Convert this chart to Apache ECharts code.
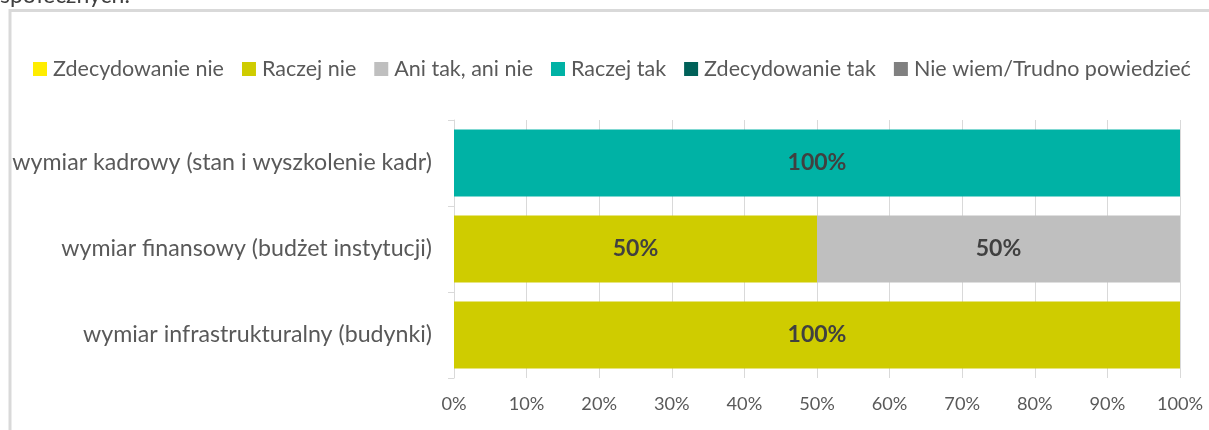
<!DOCTYPE html>
<html>
<head>
<meta charset="utf-8">
<script src="https://cdn.jsdelivr.net/npm/echarts@6/dist/echarts.min.js"></script>
<style>
html,body{margin:0;padding:0;background:#fff;}
#chart{width:1209px;height:430px;}
</style>
</head>
<body>
<div id="chart"></div>
<script>
const categories = ['wymiar infrastrukturalny (budynki)', 'wymiar finansowy (budżet instytucji)', 'wymiar kadrowy (stan i wyszkolenie kadr)'];
const seriesNames = ['Zdecydowanie nie', 'Raczej nie', 'Ani tak, ani nie', 'Raczej tak', 'Zdecydowanie tak', 'Nie wiem/Trudno powiedzieć'];
const zdecydowanieNie = [0, 0, 0];
const raczejNie = [100, 50, 0];
const aniTakAniNie = [0, 50, 0];
const raczejTak = [0, 0, 100];
const zdecydowanieTak = [0, 0, 0];
const nieWiem = [0, 0, 0];
const tickLabels = ['0%', '10%', '20%', '30%', '40%', '50%', '60%', '70%', '80%', '90%', '100%'];

const seriesValues = [zdecydowanieNie, raczejNie, aniTakAniNie, raczejTak, zdecydowanieTak, nieWiem];
const colors = ['#FFED00', '#CFCC00', '#BFBFBF', '#00B2A5', '#006159', '#808080'];
const FONT = 'Lato';

const chart = echarts.init(document.getElementById('chart'));
chart.setOption({
  animation: false,
  color: colors,
  textStyle: { fontFamily: FONT },
  graphic: [
    { type: 'text', x: 0, y: -4, style: { text: 'społecznych.', fontFamily: FONT, fontSize: 23, fill: '#404040', verticalAlign: 'middle' } },
    { type: 'rect', shape: { x: 10, y: 10.5, width: 1400, height: 600 }, style: { fill: null, stroke: '#D9D9D9', lineWidth: 3 }, silent: true }
  ],
  legend: {
    left: 28, top: 53, width: 3000,
    itemWidth: 14, itemHeight: 14, itemGap: 18,
    icon: 'rect',
    textStyle: { fontFamily: FONT, fontSize: 21.5, lineHeight: 22, color: '#595959', padding: [0, 0, 0, 1] },
    data: seriesNames
  },
  grid: { left: 454, right: 29, top: 120, bottom: 52, containLabel: false },
  xAxis: {
    type: 'value', min: 0, max: 100, interval: 10,
    axisLine: { show: false },
    axisTick: { show: false },
    splitLine: { show: true, lineStyle: { color: '#D9D9D9', width: 1 } },
    axisLabel: {
      margin: 17,
      fontFamily: FONT, fontSize: 18.2, color: '#595959',
      formatter: v => tickLabels[Math.round(v / 10)]
    }
  },
  yAxis: {
    type: 'category', data: categories,
    axisLine: { show: true, lineStyle: { color: '#D9D9D9', width: 1 } },
    axisTick: { show: true, length: 6, lineStyle: { color: '#D9D9D9' } },
    axisLabel: { margin: 22, fontFamily: FONT, fontSize: 23.2, color: '#595959' }
  },
  series: seriesValues.map((vals, i) => ({
    name: seriesNames[i],
    type: 'bar',
    stack: 'total',
    barCategoryGap: '22%',
    data: vals,
    label: {
      show: true, position: 'inside',
      fontFamily: FONT, fontSize: 23, fontWeight: 'bold', color: '#404040',
      formatter: p => p.value > 0 ? p.value + '%' : ''
    }
  }))
});
</script>
</body>
</html>
